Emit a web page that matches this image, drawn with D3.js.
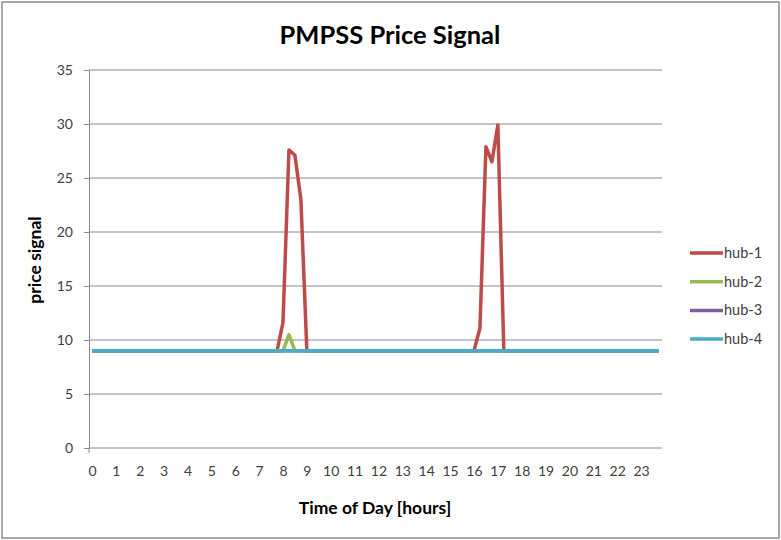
<!DOCTYPE html>
<html>
<head>
<meta charset="utf-8">
<script src="https://cdn.jsdelivr.net/npm/d3@7"></script>
<style>
  body { margin: 0; background: #fff; }
  svg { display: block; font-family: Lato, "Open Sans", sans-serif; }
</style>
</head>
<body>
<div id="chart"></div>
<script>
// 15 minute steps, 96 per day
let stepsPerHour = 4;
let hourTicks = [0,1,2,3,4,5,6,7,8,9,10,11,12,13,14,15,16,17,18,19,20,21,22,23];
let yTicks = [0,5,10,15,20,25,30,35];
let seriesNames = ["hub-1", "hub-2", "hub-3", "hub-4"];
let seriesColors = ["#BE4B48", "#98B954", "#7D60A0", "#4BACC6"];

let hub1 = [
  9,9,9,9, 9,9,9,9, 9,9,9,9, 9,9,9,9,
  9,9,9,9, 9,9,9,9, 9,9,9,9, 9,9,9,9,
  11.6,27.6,27.1,23, 9,9,9,9, 9,9,9,9, 9,9,9,9,
  9,9,9,9, 9,9,9,9, 9,9,9,9, 9,9,9,9,
  9,11.1,27.9,26.5, 29.9,9,9,9, 9,9,9,9, 9,9,9,9,
  9,9,9,9, 9,9,9,9, 9,9,9,9, 9,9,9,9
];
let hub2 = [
  9,9,9,9, 9,9,9,9, 9,9,9,9, 9,9,9,9,
  9,9,9,9, 9,9,9,9, 9,9,9,9, 9,9,9,9,
  9,10.5,9,9, 9,9,9,9, 9,9,9,9, 9,9,9,9,
  9,9,9,9, 9,9,9,9, 9,9,9,9, 9,9,9,9,
  9,9,9,9, 9,9,9,9, 9,9,9,9, 9,9,9,9,
  9,9,9,9, 9,9,9,9, 9,9,9,9, 9,9,9,9
];
let hub3 = [
  9,9,9,9, 9,9,9,9, 9,9,9,9, 9,9,9,9,
  9,9,9,9, 9,9,9,9, 9,9,9,9, 9,9,9,9,
  9,9,9,9, 9,9,9,9, 9,9,9,9, 9,9,9,9,
  9,9,9,9, 9,9,9,9, 9,9,9,9, 9,9,9,9,
  9,9,9,9, 9,9,9,9, 9,9,9,9, 9,9,9,9,
  9,9,9,9, 9,9,9,9, 9,9,9,9, 9,9,9,9
];
let hub4 = [
  9,9,9,9, 9,9,9,9, 9,9,9,9, 9,9,9,9,
  9,9,9,9, 9,9,9,9, 9,9,9,9, 9,9,9,9,
  9,9,9,9, 9,9,9,9, 9,9,9,9, 9,9,9,9,
  9,9,9,9, 9,9,9,9, 9,9,9,9, 9,9,9,9,
  9,9,9,9, 9,9,9,9, 9,9,9,9, 9,9,9,9,
  9,9,9,9, 9,9,9,9, 9,9,9,9, 9,9,9,9
];
let allSeries = [hub1, hub2, hub3, hub4];

let width = 781;
let height = 540;

let svg = d3.select("#chart").append("svg")
  .attr("width", width)
  .attr("height", height);

// outer frame
svg.append("rect")
  .attr("x", 2).attr("y", 2)
  .attr("width", 777).attr("height", 536)
  .attr("fill", "#fff")
  .attr("stroke", "#8c8c8c")
  .attr("stroke-width", 1.5);

let plotLeft = 89, plotRight = 662, plotTop = 70, plotBottom = 448;

let x = d3.scaleLinear()
  .domain([-0.5 / stepsPerHour, 24 - 0.5 / stepsPerHour])
  .range([plotLeft, plotRight]);

let y = d3.scaleLinear()
  .domain([0, 35])
  .range([plotBottom, plotTop]);

// gridlines
svg.append("g")
  .selectAll("line")
  .data(yTicks.slice(1))
  .enter()
  .append("line")
  .attr("x1", plotLeft).attr("x2", plotRight)
  .attr("y1", d => y(d)).attr("y2", d => y(d))
  .attr("stroke", "#8a8a8a")
  .attr("stroke-width", 1);

// y axis
let yAxis = svg.append("g")
  .attr("transform", "translate(" + plotLeft + ",0)")
  .call(d3.axisLeft(y).tickValues(yTicks).tickSize(5).tickPadding(11));
yAxis.select(".domain").attr("stroke", "#8a8a8a");
yAxis.selectAll(".tick line").attr("stroke", "#8a8a8a");
yAxis.selectAll("text")
  .attr("font-size", 14)
  .attr("fill", "#404040")
  .style("font-family", "Lato, sans-serif");

// x axis
let xAxis = svg.append("g")
  .attr("transform", "translate(0," + plotBottom + ")")
  .call(d3.axisBottom(x).tickValues(hourTicks).tickSize(0).tickPadding(18));
xAxis.select(".domain").attr("stroke", "#8a8a8a").attr("d", "M" + plotLeft + ",0H" + plotRight);
xAxis.selectAll("text")
  .attr("font-size", 14)
  .attr("fill", "#404040")
  .style("font-family", "Lato, sans-serif");
svg.append("line")
  .attr("x1", plotLeft).attr("x2", plotLeft)
  .attr("y1", plotBottom).attr("y2", plotBottom + 5)
  .attr("stroke", "#8a8a8a");

// lines
let line = d3.line()
  .x((d, i) => x(i / stepsPerHour))
  .y(d => y(d));

svg.append("g")
  .selectAll("path")
  .data(allSeries)
  .enter()
  .append("path")
  .attr("d", line)
  .attr("fill", "none")
  .attr("stroke", (d, i) => seriesColors[i])
  .attr("stroke-width", 3.5)
  .attr("stroke-linejoin", "round");

// title + axis titles
svg.append("text")
  .attr("x", 390).attr("y", 44)
  .attr("text-anchor", "middle")
  .attr("font-size", 25.5)
  .attr("font-weight", "bold")
  .attr("fill", "#000")
  .text("PMPSS Price Signal");

svg.append("text")
  .attr("x", 375).attr("y", 514)
  .attr("text-anchor", "middle")
  .attr("font-size", 17.5)
  .attr("font-weight", "bold")
  .text("Time of Day [hours]");

svg.append("text")
  .attr("transform", "translate(41,260) rotate(-90)")
  .attr("text-anchor", "middle")
  .attr("font-size", 17.5)
  .attr("font-weight", "bold")
  .text("price signal");

// legend
let legend = svg.append("g")
  .selectAll("g")
  .data(seriesNames)
  .enter()
  .append("g")
  .attr("transform", (d, i) => "translate(690," + (253 + i * 28.7) + ")");

legend.append("line")
  .attr("x1", 0).attr("x2", 33)
  .attr("stroke", (d, i) => seriesColors[i])
  .attr("stroke-width", 3.5);

legend.append("text")
  .attr("x", 34).attr("y", 5)
  .attr("font-size", 14.5)
  .attr("fill", "#404040")
  .text(d => d);
</script>
</body>
</html>
